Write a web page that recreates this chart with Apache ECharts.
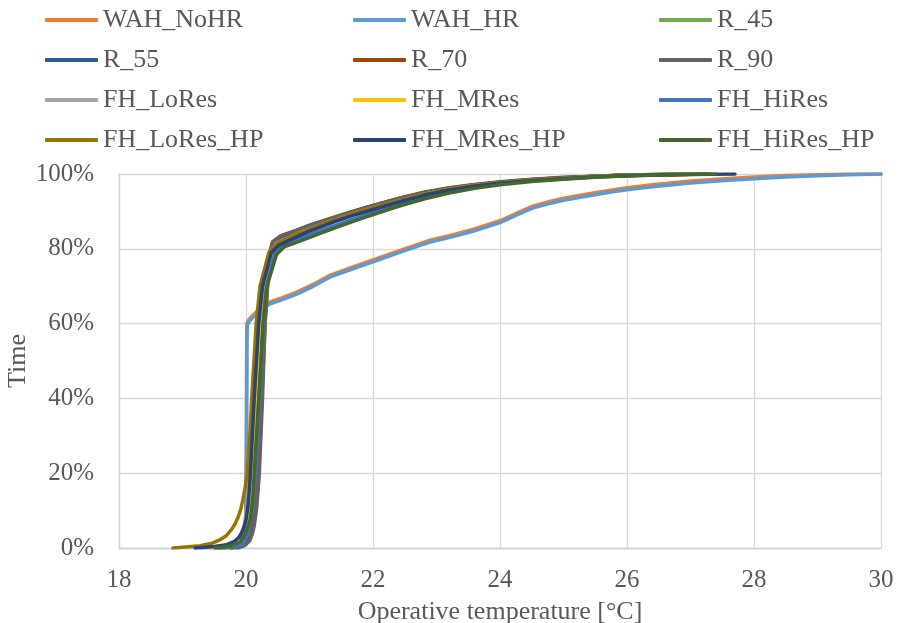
<!DOCTYPE html>
<html>
<head>
<meta charset="utf-8">
<script src="https://cdn.jsdelivr.net/npm/echarts@6/dist/echarts.min.js"></script>
<style>html,body{margin:0;padding:0;background:#fff}#c{width:902px;height:623px}</style>
</head>
<body>
<div id="c"></div>
<script>
// Temperature [°C] vs cumulative time share [%]
const xTicks = [18, 20, 22, 24, 26, 28, 30];
const yTicks = [0, 20, 40, 60, 80, 100];
const seriesNames = ['WAH_NoHR','WAH_HR','R_45','R_55','R_70','R_90','FH_LoRes','FH_MRes','FH_HiRes','FH_LoRes_HP','FH_MRes_HP','FH_HiRes_HP'];
const seriesColors = ['#ED7D31','#5B9BD5','#70AD47','#255E91','#9E480E','#636363','#A5A5A5','#FFC000','#4472C4','#997300','#264478','#43682B'];

const WAH_NoHR = [[19.86,0],[19.95,0.5],[19.985,2],[19.995,5],[20.005,30],[20.01,55],[20.015,60],[20.05,61.2],[20.1,62.1],[20.22,64.0],[20.38,65.8],[20.55,66.8],[20.8,68.4],[21.05,70.4],[21.32,72.9],[21.64,74.9],[22.0,77.0],[22.43,79.6],[22.9,82.3],[23.2,83.5],[23.6,85.3],[24.0,87.5],[24.3,89.8],[24.5,91.3],[24.8,92.7],[25.0,93.5],[25.4,94.7],[25.8,95.8],[26.0,96.3],[26.4,97.1],[27.0,98.1],[27.6,98.8],[28.0,99.2],[28.5,99.6],[29.0,99.8],[29.5,100],[30.0,100]];
const WAH_HR = [[19.88,0],[19.96,0.5],[19.99,2],[20.0,5],[20.01,30],[20.015,55],[20.02,59.5],[20.05,60.6],[20.1,61.5],[20.22,63.4],[20.38,65.3],[20.55,66.3],[20.8,67.9],[21.05,69.9],[21.32,72.4],[21.64,74.4],[22.0,76.5],[22.43,79.1],[22.9,81.8],[23.2,83.0],[23.6,84.8],[24.0,87.0],[24.3,89.3],[24.5,90.8],[24.8,92.2],[25.0,93.0],[25.4,94.2],[25.8,95.3],[26.0,95.8],[26.4,96.6],[27.0,97.6],[27.6,98.3],[28.0,98.7],[28.5,99.2],[29.0,99.5],[29.5,99.8],[30.0,100]];
const R_45 = [[19.65,0],[19.8,0.2],[19.9,0.5],[19.97,1.1],[20.02,2],[20.07,3.8],[20.1,6],[20.14,11],[20.18,20],[20.23,40],[20.28,60],[20.32,70],[20.37,79],[20.42,81.8],[20.55,83.4],[20.8,84.9],[21.0,86.2],[21.4,88.4],[21.7,90.0],[22.0,91.5],[22.43,93.5],[22.8,95.0],[23.2,96.2],[23.6,97.1],[24.0,97.8],[24.5,98.5],[25.0,99.0],[25.5,99.4],[26.0,99.7],[26.5,99.85],[27.0,100]];
const R_55 = [[19.55,0],[19.72,0.2],[19.85,0.5],[19.94,1.1],[20.0,2],[20.05,3.8],[20.08,6],[20.12,11],[20.15,20],[20.21,40],[20.26,60],[20.3,70],[20.37,79],[20.43,81.5],[20.55,83.1],[20.8,84.6],[21.0,85.9],[21.4,88.2],[21.7,89.8],[22.0,91.3],[22.43,93.3],[22.8,94.9],[23.2,96.1],[23.6,97.0],[24.0,97.7],[24.5,98.4],[25.0,98.9],[25.5,99.4],[26.0,99.7],[26.5,99.85],[27.0,100]];
const R_70 = [[19.75,0],[19.87,0.2],[19.94,0.5],[20.0,1.1],[20.05,2],[20.09,3.8],[20.12,6],[20.16,11],[20.2,20],[20.25,40],[20.3,60],[20.34,70],[20.38,79],[20.42,81.9],[20.55,83.5],[20.8,85.0],[21.0,86.3],[21.4,88.5],[21.7,90.1],[22.0,91.6],[22.43,93.6],[22.8,95.1],[23.2,96.3],[23.6,97.2],[24.0,97.9],[24.5,98.6],[25.0,99.1],[25.5,99.4],[26.0,99.7],[26.5,99.85],[27.0,100]];
const R_90 = [[19.77,0],[19.88,0.2],[19.95,0.5],[20.01,1.1],[20.06,2],[20.1,3.8],[20.13,6],[20.17,11],[20.21,20],[20.26,40],[20.3,60],[20.34,70],[20.38,79],[20.43,81.8],[20.55,83.4],[20.8,84.9],[21.0,86.2],[21.4,88.4],[21.7,90.0],[22.0,91.5],[22.43,93.5],[22.8,95.0],[23.2,96.2],[23.6,97.1],[24.0,97.8],[24.5,98.5],[25.0,99.0],[25.5,99.4],[26.0,99.7],[26.5,99.85],[27.0,100]];
const FH_LoRes = [[19.3,0],[19.48,0.2],[19.6,0.5],[19.75,1.1],[19.85,2],[19.92,3.8],[19.97,6],[20.02,11],[20.06,20],[20.12,40],[20.19,60],[20.25,70],[20.38,79],[20.48,81.5],[20.8,84.0],[21.0,85.4],[21.4,87.8],[21.7,89.5],[22.0,91.0],[22.43,93.0],[22.8,94.6],[23.2,95.9],[23.6,96.9],[24.0,97.6],[24.5,98.3],[25.0,98.8],[25.5,99.3],[26.0,99.6],[26.5,99.8],[27.2,100]];
const FH_MRes = [[19.45,0],[19.6,0.2],[19.7,0.5],[19.83,1.1],[19.92,2],[19.98,3.8],[20.02,6],[20.07,11],[20.1,20],[20.16,40],[20.22,60],[20.28,70],[20.42,79],[20.52,81.3],[20.8,83.6],[21.0,85.0],[21.4,87.5],[21.7,89.2],[22.0,90.7],[22.43,92.8],[22.8,94.4],[23.2,95.8],[23.6,96.8],[24.0,97.5],[24.5,98.2],[25.0,98.7],[25.5,99.2],[26.0,99.5],[26.5,99.75],[27.3,100]];
const FH_HiRes = [[19.6,0],[19.75,0.2],[19.85,0.5],[19.93,1.1],[19.98,2],[20.03,3.8],[20.06,6],[20.11,11],[20.15,20],[20.21,40],[20.27,60],[20.32,70],[20.46,79],[20.58,81.0],[20.85,82.9],[21.2,85.0],[21.5,86.8],[21.8,88.6],[22.1,90.3],[22.43,92.0],[22.8,93.8],[23.2,95.3],[23.6,96.5],[24.0,97.4],[24.5,98.2],[25.0,98.8],[25.5,99.3],[26.0,99.6],[26.5,99.8],[27.3,100]];
const FH_LoRes_HP = [[18.85,0],[19.05,0.25],[19.28,0.6],[19.45,1.2],[19.59,2.2],[19.69,3.3],[19.77,4.9],[19.83,6.5],[19.88,8.4],[19.92,10.5],[19.95,12.9],[19.99,16.5],[20.02,20],[20.06,30],[20.09,40],[20.16,60],[20.22,70],[20.36,79],[20.5,81.6],[20.8,83.9],[21.0,85.3],[21.4,87.8],[21.7,89.5],[22.0,91.0],[22.43,93.0],[22.8,94.6],[23.2,95.9],[23.6,96.9],[24.0,97.6],[24.5,98.3],[25.0,98.8],[25.5,99.3],[26.0,99.6],[26.5,99.8],[27.0,99.9],[27.3,100]];
const FH_MRes_HP = [[19.2,0],[19.5,0.4],[19.7,0.9],[19.82,1.8],[19.9,3],[19.96,5],[20.0,7.5],[20.03,11],[20.05,15],[20.07,20],[20.13,40],[20.2,60],[20.26,70],[20.4,79],[20.52,81.0],[20.8,83.2],[21.0,84.7],[21.4,87.3],[21.7,89.0],[22.0,90.5],[22.43,92.6],[22.8,94.3],[23.2,95.7],[23.6,96.7],[24.0,97.5],[24.5,98.2],[25.0,98.7],[25.5,99.2],[26.0,99.5],[26.5,99.7],[27.0,99.85],[27.7,100]];
const FH_HiRes_HP = [[19.51,0],[19.75,0.5],[19.9,1.5],[19.98,3.5],[20.03,5.5],[20.07,8],[20.11,14],[20.13,20],[20.2,40],[20.27,60],[20.33,70],[20.48,78.5],[20.6,80.5],[20.9,82.4],[21.2,84.3],[21.5,86.2],[21.8,88.0],[22.1,89.7],[22.43,91.5],[22.8,93.3],[23.2,94.9],[23.6,96.2],[24.0,97.1],[24.5,98.0],[25.0,98.6],[25.5,99.1],[26.0,99.5],[26.5,99.75],[27.0,99.9],[27.4,100]];

const seriesData = [WAH_NoHR, WAH_HR, R_45, R_55, R_70, R_90, FH_LoRes, FH_MRes, FH_HiRes, FH_LoRes_HP, FH_MRes_HP, FH_HiRes_HP];

const FONT = 'Liberation Serif';
const TXT = '#595959';
const chart = echarts.init(document.getElementById('c'), null, {renderer: 'canvas'});

function legendCol(names, left) {
  return {
    orient: 'vertical', left: left, top: 7,
    data: names, icon: 'roundRect', itemWidth: 53, itemHeight: 4,
    itemGap: 14, itemTextGap: 6, padding: 0, selectedMode: false,
    textStyle: {fontFamily: FONT, fontSize: 26, color: TXT, lineHeight: 26}
  };
}

chart.setOption({
  animation: false,
  color: seriesColors,
  legend: [
    legendCol([seriesNames[0], seriesNames[3], seriesNames[6], seriesNames[9]], 45),
    legendCol([seriesNames[1], seriesNames[4], seriesNames[7], seriesNames[10]], 353),
    legendCol([seriesNames[2], seriesNames[5], seriesNames[8], seriesNames[11]], 659)
  ],
  grid: {left: 119, right: 21, top: 174, bottom: 75, containLabel: false, outerBoundsMode: 'none'},
  xAxis: {
    type: 'value', min: xTicks[0], max: xTicks[xTicks.length - 1], interval: 2,
    name: 'Operative temperature [°C]', nameLocation: 'middle', nameGap: 51,
    nameTextStyle: {fontFamily: FONT, fontSize: 26, color: TXT},
    axisLine: {show: true, lineStyle: {color: '#d0d0d0', width: 1.3}},
    axisTick: {show: false},
    splitLine: {show: true, lineStyle: {color: '#d9d9d9', width: 1.3}},
    axisLabel: {fontFamily: FONT, fontSize: 25, color: TXT, margin: 20}
  },
  yAxis: {
    type: 'value', min: yTicks[0], max: yTicks[yTicks.length - 1], interval: 20,
    name: 'Time', nameLocation: 'middle', nameGap: 88, nameRotate: 90, nameMoveOverlap: false,
    nameTextStyle: {fontFamily: FONT, fontSize: 26, color: TXT},
    axisLine: {show: true, lineStyle: {color: '#d0d0d0', width: 1.3}},
    axisTick: {show: false},
    splitLine: {show: true, lineStyle: {color: '#d9d9d9', width: 1.3}},
    axisLabel: {fontFamily: FONT, fontSize: 25, color: TXT, margin: 25, formatter: '{value}%'}
  },
  series: seriesNames.map((n, i) => ({
    name: n, type: 'line', data: seriesData[i], showSymbol: false, symbol: 'none',
    smooth: false,
    lineStyle: {width: 3.5, color: seriesColors[i], cap: 'round', join: 'round'},
    itemStyle: {color: seriesColors[i]}
  }))
});
</script>
</body>
</html>
